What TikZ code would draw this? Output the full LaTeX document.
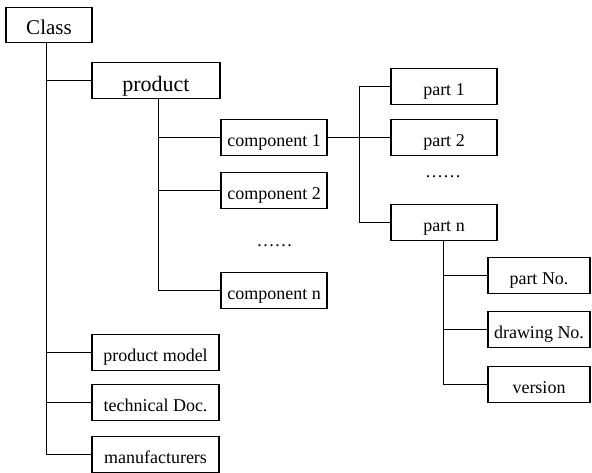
\documentclass[tikz,border=0pt]{standalone}
\usepackage{fontspec}
\setmainfont{Liberation Serif}
\begin{document}
\begin{tikzpicture}[x=1pt,y=-1pt,
  box/.style={draw,line width=1.2pt,inner sep=0pt,minimum height=35.5pt,text height=18.5pt,text depth=0.5pt,font=\fontsize{18}{20}\selectfont},
  link/.style={line width=1.2pt},
  dotsnode/.style={inner sep=0pt,font=\fontsize{18}{20}\selectfont}]
\useasboundingbox (0,0) rectangle (592,473);
\node[box,minimum width=86pt,text height=20pt,text depth=0pt,font=\fontsize{21}{24}\selectfont] (class) at (49,25) {Class};
\node[box,minimum width=128pt,text height=22pt,text depth=0.6pt,font=\fontsize{22}{24}\selectfont] (product) at (156,80.5) {product};
\node[box,minimum width=106pt] (comp1) at (274,137.5) {component 1};
\node[box,minimum width=106pt] (comp2) at (274,190.5) {component 2};
\node[dotsnode] (dots1) at (274.5,246) {……};
\node[box,minimum width=106pt] (compn) at (274,290.5) {component n};
\node[box,minimum width=106pt] (part1) at (444,86.5) {part 1};
\node[box,minimum width=106pt] (part2) at (444,137.5) {part 2};
\node[dotsnode] (dots2) at (443,177) {……};
\node[box,minimum width=106pt] (partn) at (444,222.5) {part n};
\node[box,minimum width=102pt] (partno) at (539,275.5) {part No.};
\node[box,minimum width=102pt] (drawno) at (539,329.5) {drawing No.};
\node[box,minimum width=102pt] (version) at (539,384.5) {version};
\node[box,minimum width=127pt] (pmodel) at (155.5,352.5) {product model};
\node[box,minimum width=127pt] (techdoc) at (155.5,402.5) {technical Doc.};
\node[box,minimum width=127pt] (manuf) at (155.5,454.5) {manufacturers};
\coordinate (t1) at (46.5,0);
\coordinate (t2) at (158.5,0);
\coordinate (pj) at (359.5,0);
\coordinate (t3) at (443.5,0);
% class trunk
\draw[link] (class.south -| t1) |- (manuf.west);
\draw[link] (product.west -| t1) -- (product.west);
\draw[link] (pmodel.west -| t1) -- (pmodel.west);
\draw[link] (techdoc.west -| t1) -- (techdoc.west);
% product trunk
\draw[link] (product.south -| t2) |- (compn.west);
\draw[link] (comp1.west -| t2) -- (comp1.west);
\draw[link] (comp2.west -| t2) -- (comp2.west);
% parts
\draw[link] (comp1.east) -- (part2.west);
\draw[link] (part1.west) -| (partn.west -| pj) -- (partn.west);
% part n trunk
\draw[link] (partn.south -| t3) |- (version.west);
\draw[link] (partno.west -| t3) -- (partno.west);
\draw[link] (drawno.west -| t3) -- (drawno.west);
\end{tikzpicture}
\end{document}
